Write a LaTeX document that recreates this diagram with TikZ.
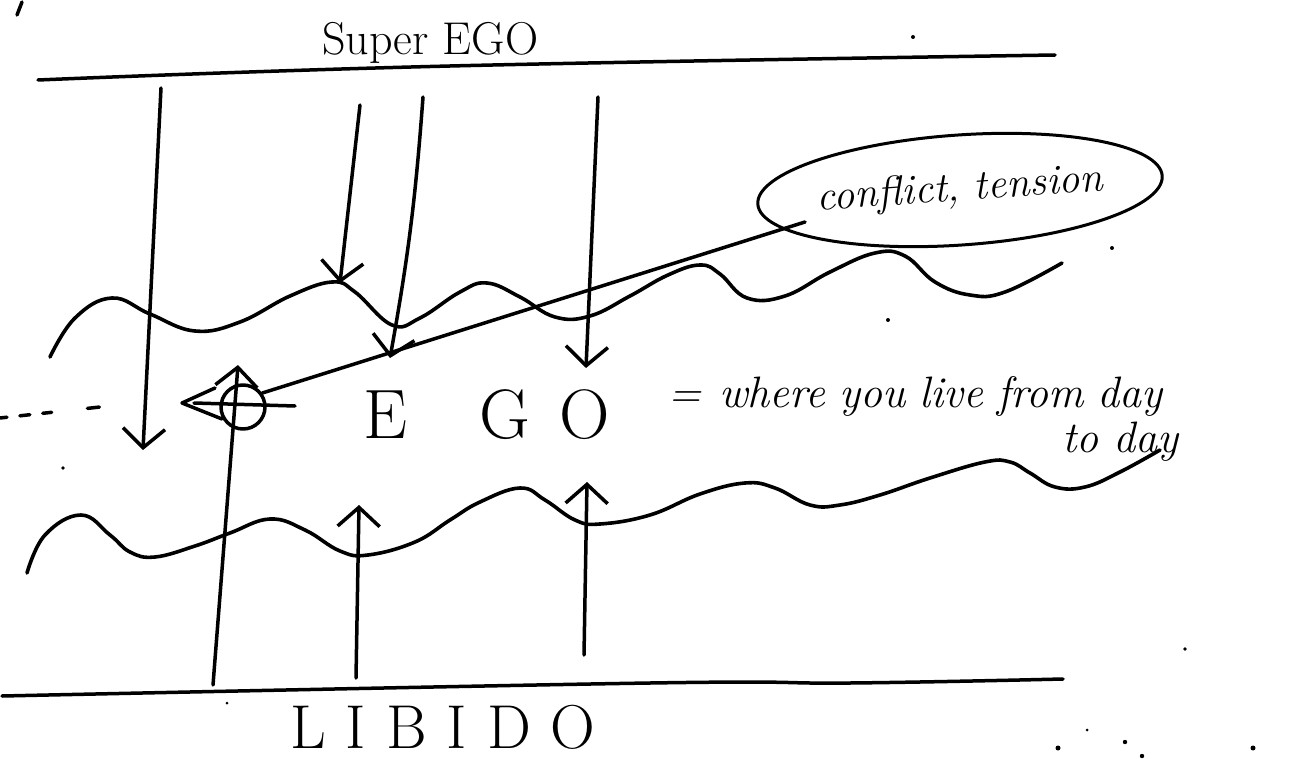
\documentclass[tikz,border=0pt]{standalone}
\usetikzlibrary{arrows.meta,shapes.geometric}
\begin{document}
\begin{tikzpicture}[x=1pt,y=-1pt]
\tikzset{
  ink/.style={line width=3.5pt, line cap=round, line join=round, black},
  barb/.style={ink, -{Straight Barb[length=19pt,width=42pt,line width=3.5pt]}},
  wavy/.style={ink, line width=3.6pt},
  speck/.style={fill=black},
  lbl/.style={inner sep=0pt, anchor=base west},
}
\useasboundingbox (0,0) rectangle (1306,759);
\fill[white] (0,0) rectangle (1306,759);

% boundary lines
\draw[ink] plot[smooth, tension=0.7] coordinates {(38,80) (450,66) (1055,55)};
\draw[ink] plot[smooth, tension=0.7] coordinates {(2,696) (650,683) (850,683) (1063,679)};
\draw[ink] (17,15) -- (22,2);

% labels
\node[lbl, font=\fontsize{46}{52}\selectfont] (sup) at (322,55) {Super EGO};
\node[lbl, font=\fontsize{70}{80}\selectfont] (ego) at (363,438) {E\hspace{72pt}G\hspace{30pt}O};
\node[lbl, font=\fontsize{44}{50}\selectfont\itshape] (where) at (668,407) {=\hspace{18pt}where\hspace{14pt}you\hspace{14pt}live\hspace{14pt}from\hspace{14pt}day};
\node[lbl, font=\fontsize{44}{50}\selectfont\itshape] (today) at (1062,452) {to day};
\node[lbl, font=\fontsize{62}{70}\selectfont] (lib) at (290,748) {L\hspace{20pt}I\hspace{20pt}B\hspace{20pt}I\hspace{20pt}D\hspace{20pt}O};

% conflict ellipse
\node[draw, ellipse, ink, line width=3pt, minimum width=352pt, minimum height=110pt, rotate=4, inner sep=0pt,
      font=\fontsize{42}{48}\selectfont\itshape] (conf) at (960,190) {\raisebox{-8pt}{conflict, tension}};

% upper wave
\draw[wavy] plot[smooth, tension=0.7] coordinates {(50,357) (75,318) (112,298) (150,314) (195,331) (240,322) (290,296) (332,282) (355,292) (392,325) (420,318) (460,292) (487,283) (520,297) (555,317) (590,316) (630,296) (668,275) (700,265) (720,274) (747,298) (785,296) (830,272) (875,253) (905,256) (935,282) (970,295) (1005,292) (1062,263)};
% lower wave
\draw[wavy] plot[smooth, tension=0.7] coordinates {(27,573) (45,535) (81,515) (110,535) (130,552) (155,557) (195,546) (230,533) (270,519) (305,530) (340,551) (368,555) (415,542) (450,520) (480,502) (520,488) (545,500) (575,520) (600,524) (650,515) (700,494) (745,483) (775,488) (810,505) (840,505) (880,495) (930,478) (985,462) (1010,462) (1030,473) (1055,487) (1085,487) (1120,472) (1160,450)};

% eye symbol
\node[draw, circle, ink, minimum size=44pt, inner sep=0pt] (eye) at (243,407) {};
\coordinate (apex) at (182,403);
\coordinate (armU) at (215,388);
\coordinate (armL) at (222,419);
\coordinate (hL) at (194,403);
\coordinate (hR) at (295,406);
\draw[ink] (armU) -- (apex) -- (armL);
\draw[ink] (hL) -- (hR);
\coordinate (cend) at (805,222);
\draw[ink] (eye.36) -- (cend);

% dashed line at the left
\coordinate (d0) at (0,418);
\coordinate (d1) at (100,407);
\draw[ink, dash pattern=on 7pt off 13pt on 10pt off 13pt on 9pt off 36pt on 12pt] (d0) -- (d1);

% downward arrows from Super EGO
\coordinate (a1s) at (161,88);  \coordinate (a1e) at (143,450);
\coordinate (a2s) at (360,105); \coordinate (a2e) at (340,283);
\coordinate (a3s) at (423,97);  \coordinate (a3e) at (390,358);
\coordinate (a4s) at (598,97);  \coordinate (a4e) at (586,368);
\draw[barb] (a1s) -- (a1e);
\draw[barb] (a2s) -- (a2e);
\draw[barb] (a3s) to[bend left=3] (a3e);
\draw[barb] (a4s) -- (a4e);

% upward arrows from LIBIDO
\coordinate (b1s) at (213,685); \coordinate (b1e) at (238,365);
\coordinate (b2s) at (356,678); \coordinate (b2e) at (359,505);
\coordinate (b3s) at (584,655); \coordinate (b3e) at (587,482);
\draw[barb] (b1s) -- (b1e);
\draw[barb] (b2s) -- (b2e);
\draw[barb] (b3s) -- (b3e);

% stray specks
\fill[speck] (913,37) circle (2pt);
\fill[speck] (888,320) circle (2pt);
\fill[speck] (1112,248) circle (2pt);
\fill[speck] (63,468) circle (1.8pt);
\fill[speck] (1185,649) circle (1.8pt);
\fill[speck] (1058,748) circle (2.5pt);
\fill[speck] (1087,730) circle (1.5pt);
\fill[speck] (1125,742) circle (2.2pt);
\fill[speck] (1142,756) circle (2.2pt);
\fill[speck] (1253,748) circle (2.5pt);
\fill[speck] (227,703) circle (1.5pt);
\end{tikzpicture}
\end{document}
